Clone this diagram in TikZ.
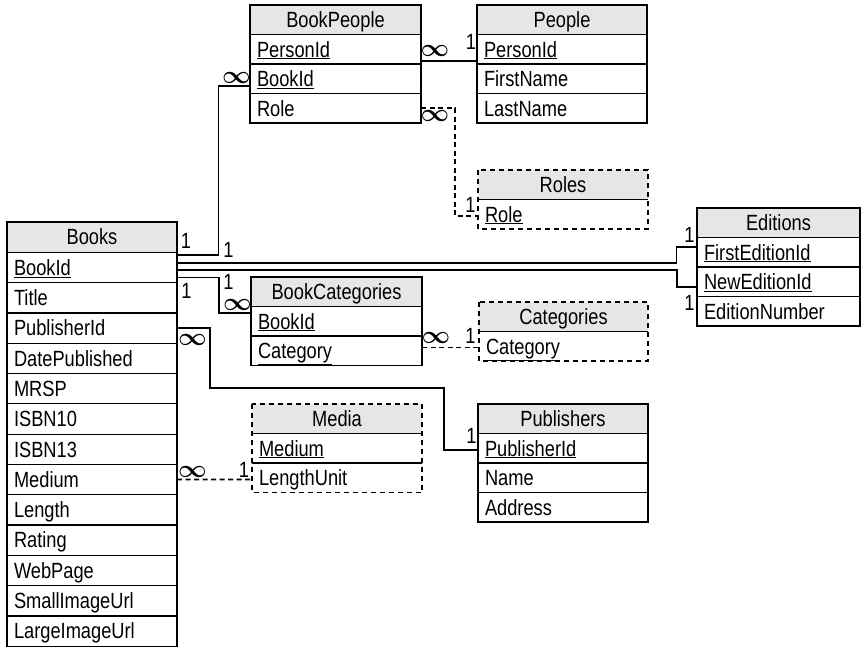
\documentclass[tikz,border=0pt]{standalone}
\usepackage{fontspec}
\setmainfont{Liberation Sans}[FakeStretch=0.83]
\usetikzlibrary{positioning}
\definecolor{hdrgray}{HTML}{E6E6E6}
\tikzset{
  tblhead/.style={draw, fill=hdrgray, line width=1.2pt, outer sep=0pt, anchor=north west, minimum width=#1,
    minimum height=29.5pt, inner sep=0pt, text height=15.6pt, text depth=0pt},
  tblrow/.style={draw, line width=1.2pt, outer sep=0pt, text width=#1, inner xsep=7pt, inner ysep=0pt,
    minimum height=29.5pt, text height=15.6pt, text depth=0pt, align=left},
  tblline/.style={line width=1.2pt},
  dashbox/.style={tblline, dash pattern=on 5pt off 4pt},
  rel/.style={line width=1.7pt},
  optrel/.style={rel, dash pattern=on 5pt off 3.5pt},
  card/.style={inner sep=0pt},
  many/.style={inner sep=0pt, font=\fontsize{24}{28}\selectfont\boldmath}
}

\begin{document}
\begin{tikzpicture}[x=1pt, y=-1pt, font=\fontsize{22}{26}\selectfont]
  \useasboundingbox (0,0) rectangle (862,650);

  % tables
  \node[tblhead=170pt, minimum height=30.3pt] (books-h) at (7,222) {Books};
  \foreach \f [count=\i, remember=\i as \j (initially h)] in {\underline{BookId},Title,PublisherId,DatePublished,MRSP,ISBN10,ISBN13,Medium,Length,Rating,WebPage,SmallImageUrl,LargeImageUrl}
    \node[tblrow=156pt, below=0pt of books-\j, minimum height=30.3pt] (books-\i) {\f};

  \node[tblhead=171pt] (bp-h) at (250,5) {BookPeople};
  \foreach \f [count=\i, remember=\i as \j (initially h)] in {\underline{PersonId},\underline{BookId},Role}
    \node[tblrow=157pt, below=0pt of bp-\j] (bp-\i) {\f};

  \node[tblhead=170pt] (ppl-h) at (477,5) {People};
  \foreach \f [count=\i, remember=\i as \j (initially h)] in {\underline{PersonId},FirstName,LastName}
    \node[tblrow=156pt, below=0pt of ppl-\j] (ppl-\i) {\f};

  \node[tblhead=170pt, draw=none] (roles-h) at (478,170) {Roles};
  \node[tblrow=156pt, draw=none, below=0pt of roles-h] (roles-1) {\underline{Role}};

  \node[tblhead=163pt] (ed-h) at (697,208) {Editions};
  \foreach \f [count=\i, remember=\i as \j (initially h)] in {\underline{FirstEditionId},\underline{NewEditionId},EditionNumber}
    \node[tblrow=149pt, below=0pt of ed-\j] (ed-\i) {\f};

  \node[tblhead=171pt] (bc-h) at (251,277) {BookCategories};
  \foreach \f [count=\i, remember=\i as \j (initially h)] in {\underline{BookId},\underline{Category}}
    \node[tblrow=157pt, below=0pt of bc-\j] (bc-\i) {\f};

  \node[tblhead=169pt, draw=none] (cat-h) at (479,302) {Categories};
  \node[tblrow=155pt, draw=none, below=0pt of cat-h] (cat-1) {\underline{Category}};

  \node[tblhead=170pt, draw=none] (media-h) at (252,404) {Media};
  \foreach \f [count=\i, remember=\i as \j (initially h)] in {\underline{Medium},LengthUnit}
    \node[tblrow=156pt, draw=none, below=0pt of media-\j] (media-\i) {\f};

  \node[tblhead=170pt] (pub-h) at (478,404) {Publishers};
  \foreach \f [count=\i, remember=\i as \j (initially h)] in {\underline{PublisherId},Name,Address}
    \node[tblrow=156pt, below=0pt of pub-\j] (pub-\i) {\f};

  % lookup tables: dashed outline
  \draw[tblline] (roles-h.south west) -- (roles-h.south east);
  \draw[dashbox] (roles-h.north west) rectangle (roles-1.south east);
  \draw[tblline] (cat-h.south west) -- (cat-h.south east);
  \draw[dashbox] (cat-h.north west) rectangle (cat-1.south east);
  \draw[tblline] (media-h.south west) -- (media-h.south east);
  \draw[tblline] (media-1.south west) -- (media-1.south east);
  \draw[dashbox] (media-h.north west) rectangle (media-2.south east);

  % relations
  \coordinate (pubbend) at (444,388);
  \draw[rel] ([yshift=-3pt]books-h.south east) -- ++(41.5,0) |- ([yshift=-7pt]bp-2.west);
  \draw[rel] ([yshift=4.5pt]books-1.east) -| ([xshift=-20.5pt,yshift=5pt]ed-1.west) -- ([yshift=5pt]ed-1.west);
  \draw[rel] ([yshift=-2.5pt]books-1.east) -| ([xshift=-20pt,yshift=-5.5pt]ed-2.west) -- ([yshift=-5.5pt]ed-2.west);
  \draw[rel] ([yshift=-10pt]books-1.east) -- ++(42,0) |- ([yshift=8pt]bc-1.west);
  \draw[rel] (books-3.east) -- ++(33,0) |- (pubbend) |- ([yshift=-2pt]pub-1.west);
  \draw[rel] ([yshift=-11.5pt]bp-1.east) -- ([yshift=-11.5pt]ppl-1.west);
  \draw[optrel] (bp-3.east) -- ++(34,0) |- ([yshift=-2pt]roles-1.west);
  \draw[optrel] ([yshift=3.25pt]bc-2.east) -- ([yshift=-1.25pt]cat-1.west);
  \draw[optrel] (books-8.east) -- ([yshift=-1.75pt]media-2.west);

  % cardinalities
  \node[card] (k-bp-one) at (186,241) {1};
  \node[many] (k-bp-many) at (236.5,77.5) {$\infty$};
  \node[card] (k-ed1-one) at (228.5,250) {1};
  \node[card] (k-ed1-ed) at (689.5,234.5) {1};
  \node[card] (k-ed2-one) at (228.5,281.5) {1};
  \node[card] (k-ed2-ed) at (689.5,302.5) {1};
  \node[card] (k-bc-one) at (186.5,290.5) {1};
  \node[many] (k-bc-many) at (237.5,305) {$\infty$};
  \node[many] (k-pub-many) at (192.5,340) {$\infty$};
  \node[card] (k-pub-one) at (471.5,435.5) {1};
  \node[many] (k-ppl-many) at (435,51) {$\infty$};
  \node[card] (k-ppl-one) at (471,42) {1};
  \node[many] (k-role-many) at (435,116) {$\infty$};
  \node[card] (k-role-one) at (470.5,204.5) {1};
  \node[many] (k-cat-many) at (436,338) {$\infty$};
  \node[card] (k-cat-one) at (470.5,335.5) {1};
  \node[many] (k-med-many) at (192.5,472) {$\infty$};
  \node[card] (k-med-one) at (244,469.5) {1};
\end{tikzpicture}
\end{document}
